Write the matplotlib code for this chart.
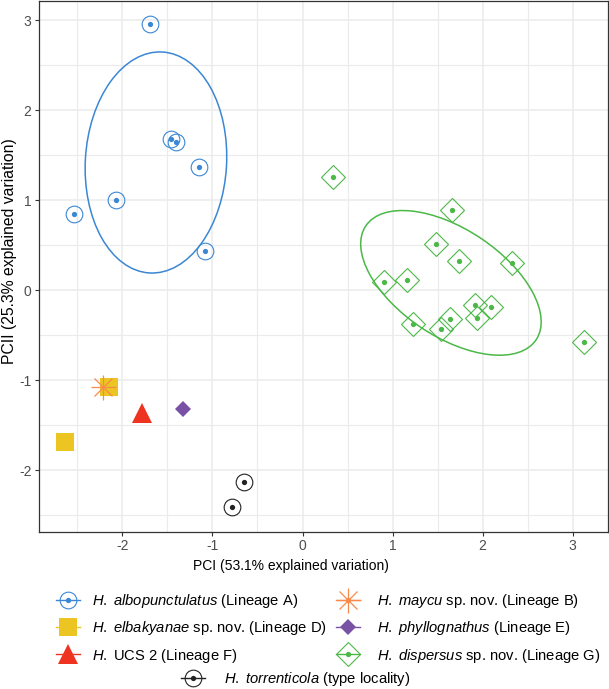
import numpy as np
import matplotlib
matplotlib.use("Agg")
import matplotlib.pyplot as plt
from matplotlib.patches import Ellipse
from matplotlib.lines import Line2D

plt.rcParams["font.family"] = ["Liberation Sans", "DejaVu Sans"]
plt.rcParams["mathtext.fontset"] = "custom"
plt.rcParams["mathtext.it"] = "Liberation Sans:italic"
plt.rcParams["mathtext.rm"] = "Liberation Sans"
plt.rcParams["axes.unicode_minus"] = False

# PCA scores
albo_x = [-1.692, -1.459, -1.404, -1.152, -2.070, -2.533, -1.078]
albo_y = [2.956, 1.678, 1.648, 1.367, 1.000, 0.841, 0.430]

disp_x = [0.333, 1.659, 1.481, 1.737, 2.326, 0.904, 1.163,
          1.911, 2.096, 1.933, 1.637, 1.533, 1.230, 3.122]
disp_y = [1.259, 0.885, 0.515, 0.322, 0.304, 0.085, 0.115,
          -0.163, -0.193, -0.311, -0.319, -0.430, -0.378, -0.578]

maycu_x, maycu_y = [-2.211], [-1.074]
elba_x, elba_y = [-2.144, -2.633], [-1.074, -1.693]
ucs2_x, ucs2_y = [-1.781], [-1.370]
phyl_x, phyl_y = [-1.330], [-1.326]
torr_x, torr_y = [-0.648, -0.785], [-2.133, -2.415]

labels = [
    r"$\it{H.}$ $\it{albopunctulatus}$ (Lineage A)",
    r"$\it{H.}$ $\it{elbakyanae}$ sp. nov. (Lineage D)",
    r"$\it{H.}$ UCS 2 (Lineage F)",
    r"$\it{H.}$ $\it{maycu}$ sp. nov. (Lineage B)",
    r"$\it{H.}$ $\it{phyllognathus}$ (Lineage E)",
    r"$\it{H.}$ $\it{dispersus}$ sp. nov. (Lineage G)",
    r"$\it{H.}$ $\it{torrenticola}$ (type locality)",
]

c_blue = "#3B87D4"
c_yel = "#ECC523"
c_red = "#EF3321"
c_orange = "#F98A4B"
c_purple = "#7952A6"
c_green = "#4CB848"
c_black = "#222222"


def conf_ellipse(ax, x, y, color, level=0.68):
    x = np.asarray(x)
    y = np.asarray(y)
    cov = np.cov(x, y)
    vals, vecs = np.linalg.eigh(cov)
    s = np.sqrt(-2 * np.log(1 - level))
    ang = np.degrees(np.arctan2(vecs[1, 1], vecs[0, 1]))
    e = Ellipse((x.mean(), y.mean()), 2 * s * np.sqrt(vals[1]), 2 * s * np.sqrt(vals[0]),
                angle=ang, fill=False, edgecolor=color, lw=1.1, zorder=2)
    ax.add_patch(e)


fig = plt.figure(figsize=(6.09, 6.89), dpi=100)
W, H = 609, 689
ax = fig.add_axes([39 / W, 1 - 531.5 / H, 569 / W, 531 / H])

ax.set_xlim(-2.925, 3.391)
ax.set_ylim(-2.683, 3.217)
ax.set_xticks([-2, -1, 0, 1, 2, 3])
ax.set_yticks([-2, -1, 0, 1, 2, 3])
ax.set_xticks(np.arange(-2.5, 3.5, 1), minor=True)
ax.set_yticks(np.arange(-2.5, 3.5, 1), minor=True)
ax.grid(which="major", color="#EBEBEB", lw=1.1, zorder=0)
ax.grid(which="minor", color="#EBEBEB", lw=0.8, zorder=0)
ax.tick_params(which="minor", length=0)
ax.tick_params(which="major", length=2.9, width=0.8, color="#333333",
               labelcolor="#4D4D4D", labelsize=10, pad=2.5)
ax.set_axisbelow(True)
for sp in ax.spines.values():
    sp.set_color("#333333")
    sp.set_linewidth(0.9)

conf_ellipse(ax, albo_x, albo_y, c_blue)
conf_ellipse(ax, disp_x, disp_y, c_green)

ring = dict(ls="none", marker="o", ms=12, mfc="none", mew=0.8)
dot = dict(ls="none", marker="o", ms=3.8, mew=0)

ax.plot(albo_x, albo_y, color=c_blue, **ring, zorder=3)
ax.plot(albo_x, albo_y, color=c_blue, **dot, zorder=4)
ax.plot(disp_x, disp_y, ls="none", marker="D", ms=12.3, mfc="none",
        mec=c_green, mew=0.8, zorder=3)
ax.plot(disp_x, disp_y, color=c_green, **dot, zorder=4)
ax.plot(torr_x, torr_y, color=c_black, **ring, zorder=3)
ax.plot(torr_x, torr_y, color=c_black, **dot, zorder=4)
ax.plot(elba_x, elba_y, ls="none", marker="s", ms=12.5, color=c_yel, mew=0, zorder=3)
ax.plot(ucs2_x, ucs2_y, ls="none", marker="^", ms=15, color=c_red, mew=0, zorder=3)
ax.plot(phyl_x, phyl_y, ls="none", marker="D", ms=8.5, color=c_purple, mew=0, zorder=3)
ax.plot(maycu_x, maycu_y, ls="none", marker="+", ms=18, color=c_orange, mew=0.9, zorder=5)
ax.plot(maycu_x, maycu_y, ls="none", marker="x", ms=12.7, color=c_orange, mew=0.9, zorder=5)

fig.text(10 / W, 1 - 251 / H, "PCII (25.3% explained variation)", rotation=90,
         ha="center", va="center", fontsize=11.3)
fig.text(291 / W, 1 - 566 / H, "PCI (53.1% explained variation)",
         ha="center", va="center", fontsize=10)


def key(color, marker, ms, filled, mew=0.8):
    line = Line2D([], [], color=color, lw=1.0)
    if filled:
        m = Line2D([], [], ls="none", marker=marker, ms=ms, color=color, mew=0)
    else:
        m = Line2D([], [], ls="none", marker=marker, ms=ms, mfc="none", mec=color, mew=mew)
    d = Line2D([], [], ls="none", marker="o", ms=3.8, color=color, mew=0)
    return (line, m, d)


star = (Line2D([], [], color=c_orange, lw=1.0),
        Line2D([], [], ls="none", marker="+", ms=18, color=c_orange, mew=0.9),
        Line2D([], [], ls="none", marker="x", ms=12.7, color=c_orange, mew=0.9),
        Line2D([], [], ls="none", marker="o", ms=3.8, color=c_orange, mew=0))

col1 = [key(c_blue, "o", 12, False), key(c_yel, "s", 12.5, True), key(c_red, "^", 15, True)]
col2 = [star, key(c_purple, "D", 8.5, True), key(c_green, "D", 12.3, False)]
col3 = [key(c_black, "o", 12, False)]

leg_kw = dict(frameon=False, loc="upper left", borderpad=0, borderaxespad=0,
              fontsize=10.6, handlelength=1.6, labelspacing=0.63)
fig.legend(col1, labels[0:3], bbox_to_anchor=(56 / W, 1 - 592 / H),
           handletextpad=0.85, **leg_kw)
fig.legend(col2, labels[3:6], bbox_to_anchor=(336 / W, 1 - 592 / H),
           handletextpad=1.19, **leg_kw)
fig.legend(col3, labels[6:7], bbox_to_anchor=(181 / W, 1 - 670 / H),
           handletextpad=1.33, **leg_kw)

fig.savefig("out.png", dpi=100)
